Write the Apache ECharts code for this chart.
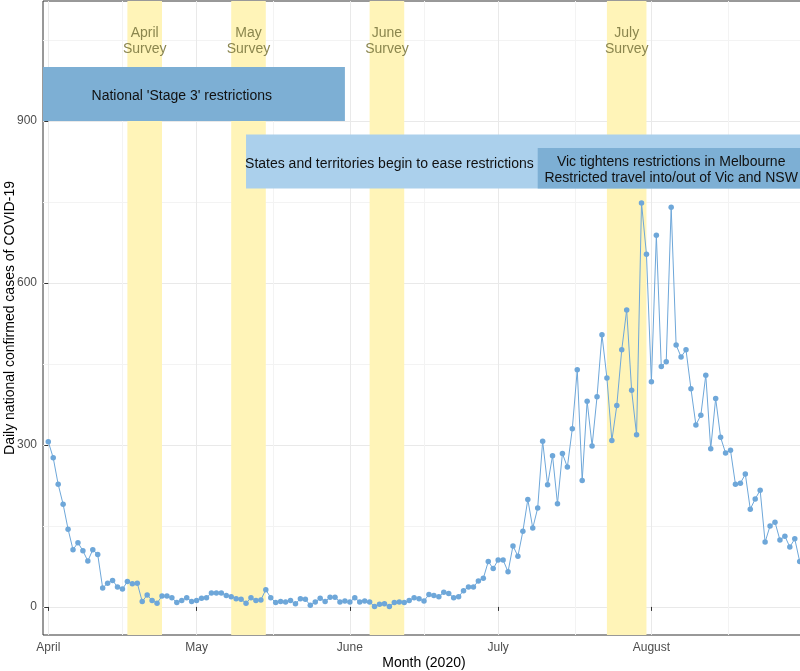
<!DOCTYPE html>
<html>
<head>
<meta charset="utf-8">
<script src="https://cdn.jsdelivr.net/npm/echarts@6/dist/echarts.min.js"></script>
<style>
html,body{margin:0;padding:0;background:#ffffff;}
#chart{width:800px;height:671px;}
</style>
</head>
<body>
<div id="chart"></div>
<script>
// ---------- data ----------
const startDate = '2020-04-01';
const dailyCases = [
  306, 276, 227, 190, 144, 106, 119, 104, 85, 106,
  97, 35, 44, 49, 37, 33, 47, 43, 44, 10,
  22, 12, 7, 20, 20, 17, 8, 12, 17, 10,
  12, 16, 17, 26, 26, 26, 21, 19, 15, 14,
  7, 17, 12, 13, 32, 17, 8, 10, 9, 12,
  6, 15, 14, 3, 9, 16, 10, 18, 18, 9,
  11, 9, 17, 9, 11, 9, 1, 5, 6, 1,
  8, 9, 8, 12, 17, 15, 11, 23, 21, 19,
  27, 25, 17, 19, 30, 37, 37, 48, 53, 84,
  71, 87, 87, 65, 113, 94, 140, 199, 146, 183,
  307, 226, 280, 191, 284, 259, 330, 439, 234, 381,
  298, 389, 504, 424, 308, 373, 476, 550, 401, 319,
  748, 653, 417, 688, 445, 454, 740, 485, 463, 476,
  404, 337, 355, 429, 293, 386, 314, 285, 290, 227,
  229, 246, 181, 200, 216, 120, 150, 157, 124, 131,
  111, 126, 84
];
const monthTickDates = ['2020-04-01', '2020-05-01', '2020-06-01', '2020-07-01', '2020-08-01'];
const monthLabels = ['April', 'May', 'June', 'July', 'August'];
const midMonthDates = ['2020-04-16', '2020-05-16T12:00', '2020-06-16', '2020-07-16T12:00', '2020-08-16T12:00'];
const yMajorTicks = [0, 300, 600, 900];
const yMinorTicks = [150, 450, 750, 1050];

const surveyNames = ['April\nSurvey', 'May\nSurvey', 'June\nSurvey', 'July\nSurvey'];
const surveyStart = ['2020-04-17', '2020-05-08', '2020-06-05', '2020-07-23'];
const surveyEnd = ['2020-04-24', '2020-05-15', '2020-06-12', '2020-07-31'];
const surveyLabelValue = 1050;

const restrictionNames = [
  "National 'Stage 3' restrictions",
  'States and territories begin to ease restrictions',
  'Vic tightens restrictions in Melbourne\nRestricted travel into/out of Vic and NSW'
];
const restrictionStart = ['2020-03-23', '2020-05-11', '2020-07-09'];
const restrictionEnd = ['2020-05-31', '2020-09-30', '2020-09-30'];
const restrictionLow = [900, 775, 775];
const restrictionHigh = [1000, 875, 850];
const restrictionLabelDate = ['2020-04-28', '2020-06-09', '2020-08-05'];

// ---------- helpers ----------
function dayIndex(d) {
  return (Date.parse(d + (d.length === 10 ? 'T00:00Z' : 'Z')) - Date.parse(startDate + 'T00:00Z')) / 864e5;
}
const monthTickDays = monthTickDates.map(dayIndex);
const midMonthDays = midMonthDates.map(dayIndex);

const FONT = '"Liberation Sans", Arial, sans-serif';
const POINT_COLOR = '#6EA7D9';
const BAND_COLOR = '#FFF4B8';
const SURVEY_TEXT = '#8B864E';
const BOX_COLORS = ['#7DAFD4', '#ABD0EC', '#7DAFD4'];
const TEXT_NUDGE = 2.5;

const chart = echarts.init(document.getElementById('chart'), null, { renderer: 'canvas' });

const bandData = surveyStart.map((s, i) => [dayIndex(s), dayIndex(surveyEnd[i]), i]);
const boxData = restrictionStart.map((s, i) => [
  dayIndex(s), dayIndex(restrictionEnd[i]), restrictionLow[i], restrictionHigh[i],
  dayIndex(restrictionLabelDate[i]), i
]);

function clipToGrid(rect, cs) {
  return echarts.graphic.clipRectByRect(rect, { x: cs.x, y: cs.y, width: cs.width, height: cs.height });
}

const option = {
  animation: false,
  backgroundColor: '#ffffff',
  grid: {
    left: 43, right: -5, top: 1, bottom: 36,
    containLabel: false, outerBoundsMode: 'none',
    show: true, borderColor: '#333333', borderWidth: 1, backgroundColor: 'transparent'
  },
  xAxis: [
    {
      type: 'value', min: -1.07, max: 153.07, position: 'bottom',
      axisLine: { show: false },
      axisTick: { show: true, length: 4, lineStyle: { color: '#333333', width: 1 }, customValues: monthTickDays },
      axisLabel: {
        customValues: monthTickDays,
        formatter: v => { const k = monthTickDays.indexOf(v); return k >= 0 ? monthLabels[k] : ''; },
        color: '#4D4D4D', fontSize: 12, fontFamily: FONT, margin: 7
      },
      splitLine: { show: true, lineStyle: { color: '#E9E9E9', width: 1 } },
      name: 'Month (2020)', nameLocation: 'middle', nameGap: 21, nameMoveOverlap: false,
      nameTextStyle: { color: '#000000', fontSize: 14, fontFamily: FONT }
    },
    {
      type: 'value', min: -1.07, max: 153.07, position: 'top',
      axisLine: { show: false },
      axisTick: { show: false, customValues: midMonthDays },
      axisLabel: { show: false },
      splitLine: { show: true, lineStyle: { color: '#F3F3F3', width: 1 } }
    }
  ],
  yAxis: [
    {
      type: 'value', min: -52, max: 1122, position: 'left',
      axisLine: { show: false },
      axisTick: { show: true, length: 4, lineStyle: { color: '#333333', width: 1 }, customValues: yMajorTicks },
      axisLabel: { customValues: yMajorTicks, color: '#4D4D4D', fontSize: 12, fontFamily: FONT, margin: 6 },
      splitLine: { show: true, lineStyle: { color: '#E9E9E9', width: 1 } },
      name: 'Daily national confirmed cases of COVID-19', nameLocation: 'middle', nameGap: 26,
      nameRotate: 90, nameMoveOverlap: false,
      nameTextStyle: { color: '#000000', fontSize: 14, fontFamily: FONT }
    },
    {
      type: 'value', min: -52, max: 1122, position: 'right',
      axisLine: { show: false },
      axisTick: { show: false, customValues: yMinorTicks },
      axisLabel: { show: false },
      splitLine: { show: true, lineStyle: { color: '#F3F3F3', width: 1 } }
    }
  ],
  series: [
    {
      type: 'custom', name: 'surveys', z: 1, silent: true,
      xAxisIndex: 0, yAxisIndex: 0,
      encode: { x: [0, 1] },
      data: bandData,
      renderItem: (params, api) => {
        const cs = params.coordSys;
        const x0 = api.coord([api.value(0), 0])[0];
        const x1 = api.coord([api.value(1), 0])[0];
        const ly = api.coord([0, surveyLabelValue])[1];
        const idx = api.value(2);
        const r = clipToGrid({ x: x0, y: cs.y, width: x1 - x0, height: cs.height }, cs);
        return {
          type: 'group',
          children: [
            { type: 'rect', shape: r, style: { fill: BAND_COLOR } },
            {
              type: 'text', x: (x0 + x1) / 2, y: ly + 1,
              style: {
                text: surveyNames[idx], fill: SURVEY_TEXT, fontSize: 14, fontFamily: FONT,
                align: 'center', verticalAlign: 'middle', lineHeight: 16
              }
            }
          ]
        };
      }
    },
    {
      type: 'line', name: 'Daily cases', z: 2,
      xAxisIndex: 0, yAxisIndex: 0,
      data: dailyCases.map((v, i) => [i, v]),
      symbol: 'circle', symbolSize: 5.5, showSymbol: true,
      lineStyle: { color: POINT_COLOR, width: 1 },
      itemStyle: { color: POINT_COLOR },
      emphasis: { disabled: true }
    },
    {
      type: 'custom', name: 'restrictions', z: 3, silent: true,
      xAxisIndex: 0, yAxisIndex: 0,
      encode: { x: [0, 1], y: [2, 3] },
      data: boxData,
      renderItem: (params, api) => {
        const cs = params.coordSys;
        const p0 = api.coord([api.value(0), api.value(3)]);
        const p1 = api.coord([api.value(1), api.value(2)]);
        const idx = api.value(5);
        const r = clipToGrid({ x: p0[0], y: p0[1], width: p1[0] - p0[0], height: p1[1] - p0[1] }, cs);
        const tp = api.coord([api.value(4), (api.value(2) + api.value(3)) / 2]);
        return {
          type: 'group',
          children: [
            { type: 'rect', shape: r, style: { fill: BOX_COLORS[idx] } },
            {
              type: 'text', x: tp[0], y: tp[1] + TEXT_NUDGE,
              style: {
                text: restrictionNames[idx], fill: '#111111', fontSize: 14, fontFamily: FONT,
                align: 'center', verticalAlign: 'middle', lineHeight: 16
              }
            }
          ]
        };
      }
    }
  ]
};

chart.setOption(option);
</script>
</body>
</html>
